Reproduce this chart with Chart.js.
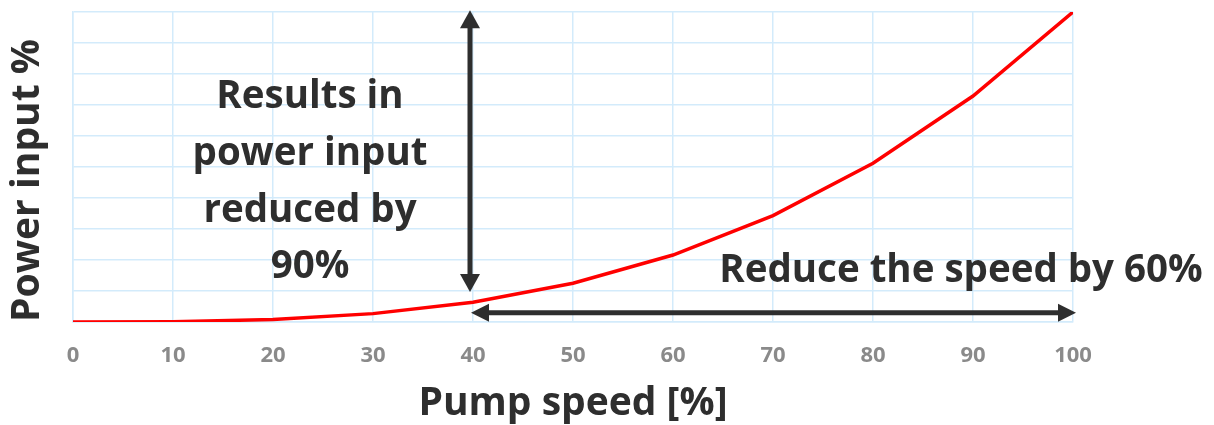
<!DOCTYPE html>
<html>
<head>
<meta charset="utf-8">
<script src="https://cdn.jsdelivr.net/npm/chart.js@4"></script>
<style>
html,body{margin:0;padding:0;background:#fff;}
#wrap{width:1214px;height:425px;position:relative;}
</style>
</head>
<body>
<div id="wrap"><canvas id="c" width="1214" height="425"></canvas></div>
<script>
const speeds = [0, 10, 20, 30, 40, 50, 60, 70, 80, 90, 100];
const powerInput = [0, 0.1, 0.8, 2.7, 6.4, 12.5, 21.6, 34.3, 51.2, 72.9, 100];
const xTicks = [0, 10, 20, 30, 40, 50, 60, 70, 80, 90, 100];
const xTitle = "Pump speed [%]";
const yTitle = "Power input %";
const noteLeft = ["Results in", "power input", "reduced by", "90%"];
const noteRight = "Reduce the speed by 60%";

const FONT = "'Open Sans', 'DejaVu Sans', sans-serif";
const DARK = "#2e2e2e";
const GRID = "#d3ebfb";

function arrowHead(ctx, x, y, dir, len, half) {
  ctx.beginPath();
  if (dir === 'up') { ctx.moveTo(x, y); ctx.lineTo(x - half, y + len); ctx.lineTo(x + half, y + len); }
  if (dir === 'down') { ctx.moveTo(x, y); ctx.lineTo(x - half, y - len); ctx.lineTo(x + half, y - len); }
  if (dir === 'left') { ctx.moveTo(x, y); ctx.lineTo(x + len, y - half); ctx.lineTo(x + len, y + half); }
  if (dir === 'right') { ctx.moveTo(x, y); ctx.lineTo(x - len, y - half); ctx.lineTo(x - len, y + half); }
  ctx.closePath();
  ctx.fill();
}

const annotations = {
  id: 'annotations',
  afterDatasetsDraw(chart) {
    const ctx = chart.ctx;
    const xs = chart.scales.x, ys = chart.scales.y;
    ctx.save();
    ctx.fillStyle = DARK;
    ctx.strokeStyle = DARK;
    ctx.lineWidth = 5;
    // vertical double arrow
    const vx = xs.getPixelForValue(39.7);
    const vTop = ys.getPixelForValue(100.6);
    const vBot = ys.getPixelForValue(9.7);
    ctx.beginPath();
    ctx.moveTo(vx, vTop + 14);
    ctx.lineTo(vx, vBot - 14);
    ctx.stroke();
    arrowHead(ctx, vx, vTop, 'up', 18, 10);
    arrowHead(ctx, vx, vBot, 'down', 18, 10);
    // horizontal double arrow
    const hy = ys.getPixelForValue(3.0);
    const hL = xs.getPixelForValue(39.8);
    const hR = xs.getPixelForValue(100.3);
    ctx.beginPath();
    ctx.moveTo(hL + 14, hy);
    ctx.lineTo(hR - 14, hy);
    ctx.stroke();
    arrowHead(ctx, hL, hy, 'left', 18, 9);
    arrowHead(ctx, hR, hy, 'right', 18, 9);
    // texts
    ctx.font = "bold 38.5px " + FONT;
    ctx.textAlign = 'center';
    ctx.textBaseline = 'alphabetic';
    const tx = xs.getPixelForValue(23.7);
    const baseY = [108, 165, 222, 278];
    noteLeft.forEach((t, i) => ctx.fillText(t, tx, baseY[i]));
    ctx.fillText(noteRight, xs.getPixelForValue(88.8), 282);
    ctx.restore();
  }
};

new Chart(document.getElementById('c'), {
  type: 'line',
  data: {
    datasets: [{
      data: speeds.map((s, i) => ({x: s, y: powerInput[i]})),
      borderColor: '#ff0000',
      borderWidth: 3.5,
      pointRadius: 0,
      tension: 0,
      fill: false
    }]
  },
  options: {
    responsive: false,
    animation: false,
    devicePixelRatio: 1,
    layout: { padding: { left: 0, right: 141, top: 12, bottom: 0 } },
    plugins: { legend: { display: false }, tooltip: { enabled: false } },
    scales: {
      x: {
        type: 'linear', min: 0, max: 100,
        afterBuildTicks(scale) { scale.ticks = xTicks.map(v => ({value: v})); },
        afterFit(scale) { scale.height = 103; },
        grid: { color: GRID, lineWidth: 1.5, drawTicks: false },
        border: { color: GRID, width: 1.5 },
        ticks: { padding: 21, color: '#8a8a8a', font: { family: FONT, size: 22, weight: 'bold' } },
        title: { display: true, text: xTitle, color: DARK, padding: {top: 0, bottom: 0},
                 font: { family: FONT, size: 39, weight: 'bold', lineHeight: 1.1 } }
      },
      y: {
        type: 'linear', min: 0, max: 100,
        ticks: { display: false, stepSize: 10 },
        afterFit(scale) { scale.width = 73; },
        grid: { color: GRID, lineWidth: 1.5, drawTicks: false },
        border: { color: GRID, width: 1.5 },
        title: { display: true, text: yTitle, color: DARK, align: 'start', padding: {top: 6, bottom: 0},
                 font: { family: FONT, size: 39, weight: 'bold', lineHeight: 1.1 } }
      }
    }
  },
  plugins: [annotations]
});
</script>
</body>
</html>
